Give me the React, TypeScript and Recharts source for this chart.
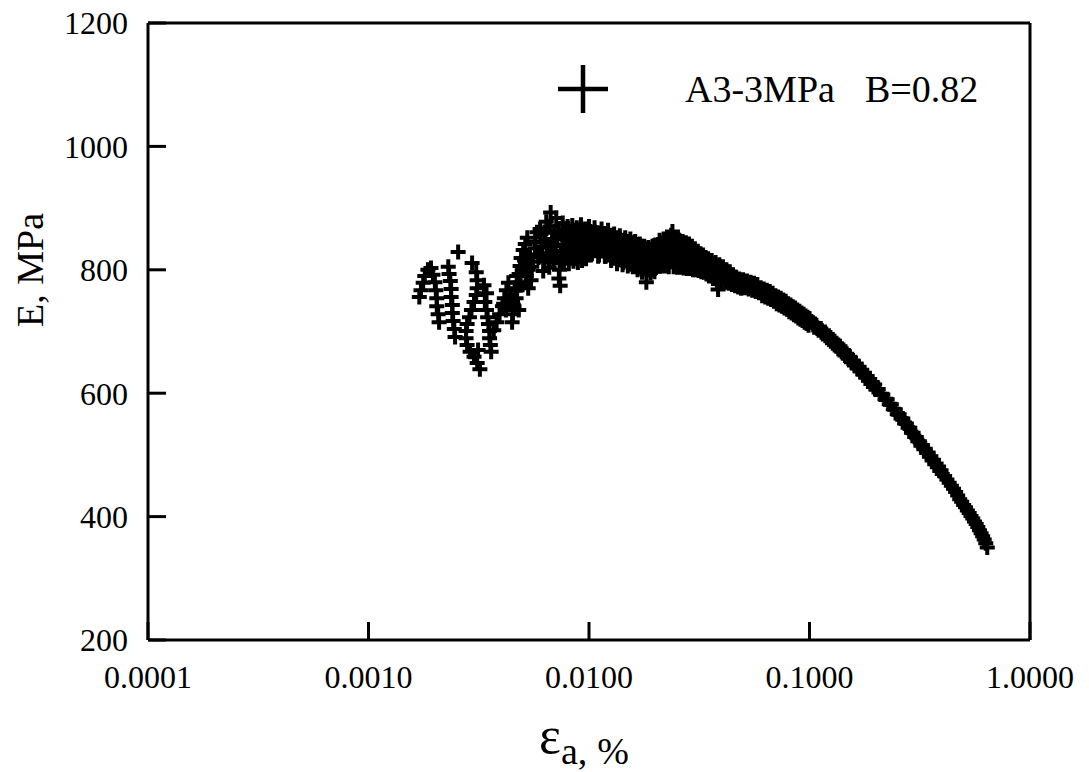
import {
  ScatterChart,
  Scatter,
  XAxis,
  YAxis,
  ReferenceLine,
  Legend,
} from "recharts";

const FONT = '"Liberation Serif", "Times New Roman", "DejaVu Serif", serif';

const xTicks = [0.0001, 0.001, 0.01, 0.1, 1];
const yTicks = [200, 400, 600, 800, 1000, 1200];
const seriesName = "A3-3MPa";
const seriesNote = "B=0.82";

// small-strain part, scattered stacks
const earlyStrain = [
  0.0017, 0.00173, 0.00177, 0.0018, 0.00186, 0.00192, 0.00196, 0.002, 0.00202, 0.00204,
  0.00204, 0.00207, 0.00209, 0.0023, 0.00232, 0.00235, 0.00237, 0.00237, 0.0024, 0.0024,
  0.00242, 0.00245, 0.00247, 0.00255, 0.00295, 0.00308, 0.00311, 0.00311, 0.00308, 0.00301,
  0.00293, 0.00287, 0.0028, 0.00277, 0.00277, 0.0028, 0.00289, 0.00301, 0.00311, 0.0032,
  0.00314, 0.00334, 0.00343, 0.00337, 0.00343, 0.00347, 0.0035, 0.00354, 0.00354, 0.00357,
  0.0036, 0.0037, 0.00381, 0.00393, 0.00405, 0.00413, 0.00422, 0.00431, 0.00448, 0.00452,
  0.00457, 0.00467, 0.00472, 0.00477, 0.00482, 0.00487, 0.00492, 0.00503, 0.00514, 0.00525,
  0.00519, 0.0053, 0.00546, 0.00557, 0.00569, 0.00581,
  0.0041, 0.0042, 0.0044, 0.0045, 0.0046, 0.0047, 0.0048, 0.0049, 0.005, 0.0051,
  0.0052, 0.0053, 0.0054, 0.0055, 0.0057, 0.0059,
];
const earlyModulus = [
  756, 767, 779, 790, 800, 803, 792, 780, 767, 754,
  741, 728, 715, 805, 793, 782, 769, 756, 743, 730,
  717, 704, 691, 829, 811, 796, 783, 770, 759, 748,
  735, 723, 712, 701, 689, 678, 667, 659, 649, 639,
  670, 775, 762, 748, 735, 723, 712, 701, 689, 678,
  667, 702, 715, 728, 741, 754, 767, 779, 715, 728,
  741, 754, 767, 780, 793, 806, 819, 832, 842, 852,
  819, 800, 783, 813, 835, 861,
  745, 735, 760, 748, 770, 790, 735, 775, 800, 815,
  790, 770, 825, 805, 845, 820,
];

// noisy plateau around the peak
const peakStrain = [
  0.006, 0.0061, 0.0062, 0.0063, 0.0064, 0.0065, 0.0066, 0.0067, 0.0068, 0.0069,
  0.007, 0.0071, 0.0072, 0.0073, 0.0074, 0.0075, 0.0076, 0.0077, 0.0078, 0.0079,
  0.008, 0.0081, 0.0082, 0.0083, 0.0084, 0.0085, 0.0086, 0.0087, 0.0088, 0.0089,
  0.009, 0.0091, 0.0092, 0.0093, 0.0094, 0.0095, 0.0096, 0.0097, 0.0098, 0.0099,
  0.01,
  0.0102, 0.0104, 0.0106, 0.0108, 0.011, 0.0112, 0.0114, 0.0116, 0.0118, 0.012,
  0.0122, 0.0124, 0.0126, 0.0128, 0.013, 0.0132, 0.0134, 0.0136, 0.0138, 0.014,
  0.0142, 0.0144, 0.0146, 0.0148, 0.015, 0.0152, 0.0154, 0.0156, 0.0158, 0.016,
  0.0162, 0.0164, 0.0166, 0.0168, 0.017, 0.0172, 0.0174, 0.0176, 0.0178, 0.018,
  0.0182, 0.0184, 0.0186, 0.0188, 0.019, 0.0192, 0.0194, 0.0196, 0.0198, 0.02,
  0.0203, 0.0206, 0.0209, 0.0212, 0.0215, 0.0218, 0.0221, 0.0224, 0.0227, 0.023,
  0.0233, 0.0236, 0.0239, 0.0242, 0.0245, 0.0248, 0.0251, 0.0254, 0.0257, 0.026,
  0.0263, 0.0266, 0.0269, 0.0272, 0.0275, 0.0278, 0.0281, 0.0284, 0.0287, 0.029,
  0.0293, 0.0296, 0.0299, 0.0302, 0.0305, 0.0308, 0.0311, 0.0314, 0.0317, 0.032,
  0.0323, 0.0326, 0.0329, 0.0332, 0.0335, 0.0338, 0.0341, 0.0344, 0.0347, 0.035,
  0.0355, 0.036, 0.0365, 0.037, 0.0375, 0.038, 0.0385, 0.039, 0.0395, 0.04,
  0.0405, 0.041, 0.0415, 0.042, 0.0425, 0.043, 0.0435, 0.044, 0.0445, 0.045,
  0.0455, 0.046, 0.0465, 0.047, 0.0475, 0.048, 0.0485, 0.049, 0.0495,
];
const peakModulus = [
  866, 822, 798, 845, 878, 826, 804, 893, 850, 812,
  830, 884, 852, 786, 774, 830, 876, 812, 850, 832,
  870, 810, 852, 830, 872, 814, 850, 832, 868, 812,
  848, 830, 873, 815, 852, 834, 866, 818, 846, 832,
  870,
  824, 848, 868, 836, 822, 852, 866, 838, 822, 850,
  864, 834, 815, 842, 858, 828, 810, 840, 855, 824,
  808, 838, 852, 822, 806, 834, 850, 820, 805, 832,
  846, 816, 800, 828, 842, 812, 796, 826, 838, 810,
  780, 822, 836, 808, 795, 822, 838, 810, 797, 840,
  806, 828, 848, 806, 828, 850, 806, 830, 852, 805,
  830, 856, 862, 805, 832, 852, 804, 828, 848, 804,
  826, 846, 803, 824, 844, 802, 822, 842, 802, 820,
  838, 800, 818, 834, 800, 816, 830, 799, 812, 826,
  797, 810, 824, 796, 808, 820, 793, 806, 818, 790,
  805, 815, 786, 800, 812, 783, 768, 808, 795, 782,
  805, 792, 780, 800, 790, 778, 797, 786, 776, 792,
  782, 774, 788, 780, 772, 785, 777, 770, 782,
];

// readings taken between the plateau readings above
const plateauStrain = [
  0.00605, 0.00615, 0.00625, 0.00635, 0.00645, 0.00655, 0.00665, 0.00675, 0.00685, 0.00695,
  0.00705, 0.00715, 0.00725, 0.00735, 0.00745, 0.00755, 0.00765, 0.00775, 0.00785, 0.00795,
  0.00805, 0.00815, 0.00825, 0.00835, 0.00845, 0.00855, 0.00865, 0.00875, 0.00885, 0.00895,
  0.00905, 0.00915, 0.00925, 0.00935, 0.00945, 0.00955, 0.00965, 0.00975, 0.00985, 0.00995,
  0.0101, 0.0103, 0.0105, 0.0107, 0.0109, 0.0111, 0.0113, 0.0115, 0.0117, 0.0119,
  0.0121, 0.0123, 0.0125, 0.0127, 0.0129, 0.0131, 0.0133, 0.0135, 0.0137, 0.0139,
  0.0141, 0.0143, 0.0145, 0.0147, 0.0149, 0.0151, 0.0153, 0.0155, 0.0157, 0.0159,
  0.0161, 0.0163, 0.0165, 0.0167, 0.0169, 0.0171, 0.0173, 0.0175, 0.0177, 0.0179,
  0.0181, 0.0183, 0.0185, 0.0187, 0.0189, 0.0191, 0.0193, 0.0195, 0.0197, 0.0199,
  0.02015, 0.02045, 0.02075, 0.02105, 0.02135, 0.02165, 0.02195, 0.02225, 0.02255, 0.02285,
  0.02315, 0.02345, 0.02375, 0.02405, 0.02435, 0.02465, 0.02495, 0.02525, 0.02555, 0.02585,
  0.02615, 0.02645, 0.02675, 0.02705, 0.02735, 0.02765, 0.02795, 0.02825, 0.02855, 0.02885,
  0.02915, 0.02945, 0.02975, 0.03005, 0.03035, 0.03065, 0.03095, 0.03125, 0.03155, 0.03185,
  0.03215, 0.03245, 0.03275, 0.03305, 0.03335, 0.03365, 0.03395, 0.03425, 0.03455, 0.03485,
];
const plateauModulus = [
  858, 838, 818, 860, 840, 820, 870, 838, 822, 862,
  840, 820, 862, 800, 815, 856, 838, 822, 860, 840,
  822, 858, 840, 822, 860, 838, 822, 858, 840, 824,
  858, 840, 824, 860, 840, 826, 858, 838, 826, 858,
  862, 826, 853, 837, 860, 824, 851, 835, 859, 822,
  849, 832, 856, 819, 846, 830, 852, 816, 843, 826,
  848, 812, 840, 823, 846, 810, 837, 820, 844, 806,
  834, 816, 841, 803, 830, 813, 838, 801, 828, 810,
  834, 800, 826, 808, 833, 800, 826, 808, 834, 802,
  838, 817, 839, 817, 840, 817, 840, 818, 841, 818,
  842, 818, 843, 818, 843, 817, 841, 816, 839, 815,
  837, 815, 836, 814, 835, 813, 833, 812, 831, 811,
  829, 810, 827, 808, 826, 807, 824, 806, 822, 805,
  819, 804, 817, 802, 815, 801, 813, 800, 811, 799,
];

// smooth decay at large strain
const tailStrain = [
  0.05, 0.051, 0.052, 0.053, 0.054, 0.055, 0.056, 0.057, 0.058, 0.059,
  0.06, 0.061, 0.062, 0.063, 0.064, 0.065, 0.066, 0.067, 0.068, 0.069,
  0.07, 0.071, 0.072, 0.073, 0.074, 0.075, 0.076, 0.077, 0.078, 0.079,
  0.08, 0.081, 0.082, 0.083, 0.084, 0.085, 0.086, 0.087, 0.088, 0.089,
  0.09, 0.091, 0.092, 0.093, 0.094, 0.095, 0.096, 0.097, 0.098, 0.099,
  0.1,
  0.1025, 0.105, 0.1075, 0.11, 0.1125, 0.115, 0.1175, 0.12, 0.1225, 0.125,
  0.1275, 0.13, 0.1325, 0.135, 0.1375, 0.14, 0.1425, 0.145, 0.1475, 0.15,
  0.1525, 0.155, 0.1575, 0.16, 0.1625, 0.165, 0.1675, 0.17, 0.1725, 0.175,
  0.1775, 0.18, 0.1825, 0.185, 0.1875, 0.19, 0.1925, 0.195, 0.1975, 0.2,
  0.205, 0.21, 0.215, 0.22, 0.225, 0.23, 0.235, 0.24, 0.245, 0.25,
  0.255, 0.26, 0.265, 0.27, 0.275, 0.28, 0.285, 0.29, 0.295, 0.3,
  0.305, 0.31, 0.315, 0.32, 0.325, 0.33, 0.335, 0.34, 0.345, 0.35,
  0.355, 0.36, 0.365, 0.37, 0.375, 0.38, 0.385, 0.39, 0.395, 0.4,
  0.41, 0.42, 0.43, 0.44, 0.45, 0.46, 0.47, 0.48, 0.49, 0.5,
  0.51, 0.52, 0.53, 0.54, 0.55, 0.56, 0.57, 0.58, 0.59, 0.6,
  0.61, 0.62, 0.63, 0.64,
];
const tailModulus = [
  784, 771, 782, 769, 780, 767, 778, 765, 776, 763,
  771, 758, 769, 756, 767, 754, 765, 752, 762, 749,
  758, 745, 756, 743, 754, 741, 751, 738, 749, 736,
  745, 732, 743, 730, 740, 727, 738, 725, 735, 722,
  733, 720, 730, 718, 728, 715, 725, 713, 723, 710,
  721,
  715, 707, 710, 702, 705, 696, 699, 690, 693, 684,
  687, 678, 681, 672, 676, 667, 670, 661, 664, 656,
  659, 650, 653, 645, 648, 640, 643, 635, 638, 630,
  633, 625, 628, 620, 623, 615, 618, 610, 614, 606,
  607, 598, 598, 590, 590, 582, 582, 574, 574, 566,
  566, 559, 559, 551, 551, 544, 544, 536, 536, 529,
  529, 522, 522, 515, 516, 509, 510, 503, 504, 497,
  498, 491, 492, 485, 486, 480, 481, 474, 475, 469,
  466, 460, 455, 450, 445, 440, 434, 428, 424, 419,
  415, 410, 406, 401, 397, 392, 388, 383, 378, 373,
  368, 363, 357, 350,
];

const toPoints = (xs: number[], ys: number[]) =>
  xs.map((strain, i) => ({ strain, modulus: ys[i] }));

const data = [
  ...toPoints(earlyStrain, earlyModulus),
  ...toPoints(peakStrain, peakModulus),
  ...toPoints(plateauStrain, plateauModulus),
  ...toPoints(tailStrain, tailModulus),
];

// "+" marker used for every measurement
const PlusMark = (props: any) => {
  const { cx, cy } = props;
  if (cx == null || cy == null) return null;
  const h = 7.5;
  return (
    <path
      d={`M${cx - h},${cy}H${cx + h}M${cx},${cy - h}V${cy + h}`}
      stroke="#000"
      strokeWidth={4}
      fill="none"
    />
  );
};

const renderLegend = () => (
  <svg width={480} height={70}>
    <path d="M8,34H58M33,10V58" stroke="#000" strokeWidth={4.5} fill="none" />
    <text x={135} y={47} style={{ fontFamily: FONT }} fontSize={38} fill="#000">
      <tspan>{seriesName}</tspan>
      <tspan dx={30}>{seriesNote}</tspan>
    </text>
  </svg>
);

const renderXTitle = (props: any) => {
  const vb = props.viewBox || { x: 140, width: 882 };
  const cx = vb.x + vb.width / 2 - 5;
  return (
    <text x={cx} y={745} textAnchor="middle" style={{ fontFamily: FONT }} fill="#000">
      <tspan fontSize={52}>ε</tspan>
      <tspan fontSize={38} dy={11}>a,</tspan>
      <tspan fontSize={38} dx={10}>%</tspan>
    </text>
  );
};

const renderYTitle = () => (
  <text
    x={22}
    y={262}
    transform="rotate(-90, 22, 262)"
    textAnchor="middle"
    dominantBaseline="central"
    style={{ fontFamily: FONT }}
    fontSize={38}
    fill="#000"
  >
    E, MPa
  </text>
);

const axisLine = { stroke: "#000", strokeWidth: 3 };
const tickStyle = { fill: "#000", fontSize: 32, style: { fontFamily: FONT } };

export default function App() {
  return (
    <div style={{ width: 1081, height: 764, background: "#fff", fontFamily: FONT }}>
      <ScatterChart
        width={1081}
        height={764}
        margin={{ top: 15, right: 59, bottom: 72, left: 0 }}
        style={{ fontFamily: FONT }}
      >
        <XAxis
          type="number"
          dataKey="strain"
          scale="log"
          domain={[0.0001, 1]}
          ticks={xTicks}
          interval={0}
          allowDataOverflow
          height={60}
          tickSize={-18}
          tickMargin={43}
          tick={tickStyle}
          tickLine={axisLine}
          axisLine={axisLine}
          tickFormatter={(v: number) => v.toFixed(4)}
          label={renderXTitle}
        />
        <YAxis
          type="number"
          dataKey="modulus"
          domain={[200, 1200]}
          ticks={yTicks}
          interval={0}
          allowDataOverflow
          width={140}
          tickSize={-18}
          tickMargin={38}
          tick={tickStyle}
          tickLine={axisLine}
          axisLine={axisLine}
          label={renderYTitle}
        />
        <ReferenceLine y={1200} stroke="#000" strokeWidth={3} />
        <ReferenceLine x={1} stroke="#000" strokeWidth={3} />
        <Legend
          layout="vertical"
          align="center"
          verticalAlign="middle"
          wrapperStyle={{ left: 542, top: 47, width: 480, height: 70 }}
          content={renderLegend}
        />
        <Scatter
          name={seriesName}
          data={data}
          shape={PlusMark}
          isAnimationActive={false}
        />
      </ScatterChart>
    </div>
  );
}
